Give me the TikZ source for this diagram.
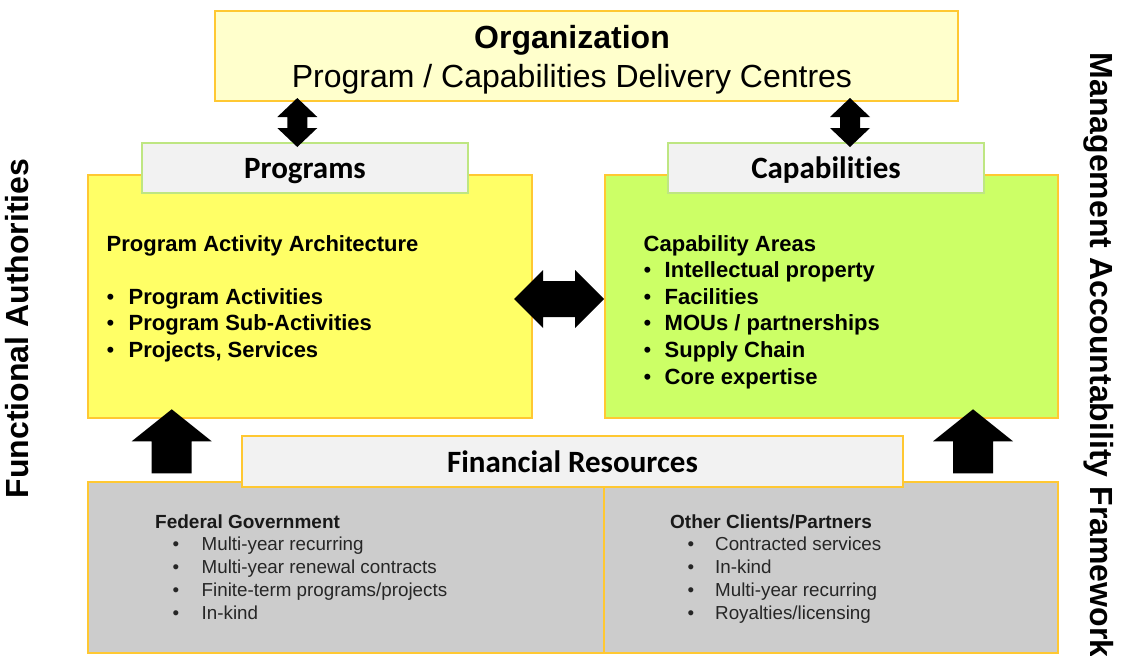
\documentclass[tikz,border=0pt]{standalone}
\usepackage{fontspec}
\setmainfont{Liberation Sans}
\newfontfamily\calfont[Ligatures=NoCommon]{Carlito}
\newcommand\itembul[1]{\makebox[#1][l]{\mdseries\textbullet}}

\definecolor{gold}{RGB}{255,200,50}
\definecolor{orgfill}{RGB}{255,255,204}
\definecolor{progfill}{RGB}{255,255,102}
\definecolor{capfill}{RGB}{204,255,102}
\definecolor{labfill}{RGB}{242,242,242}
\definecolor{labgreen}{RGB}{190,230,130}
\definecolor{resfill}{RGB}{204,204,204}

\begin{document}
\begin{tikzpicture}[x=1pt,y=-1pt,
  panel/.style={draw=gold, line width=1.5pt, inner sep=0pt, outer sep=0pt},
  tab/.style={panel, fill=labfill},
  caption/.style={anchor=base, inner sep=0pt, font=\calfont\bfseries\fontsize{31}{37}\selectfont},
  listtext/.style={anchor=base west, inner sep=0pt},
  sidelabel/.style={anchor=base, inner sep=0pt, font=\fontsize{32}{38}\selectfont\bfseries},
  % block arrows, drawn around their centre
  vdarrow/.pic={\fill (0,-24.5) -- (20,-5.5) -- (10,-5.5) -- (10,5.5) -- (20,5.5) -- (0,24.5)
       -- (-20,5.5) -- (-10,5.5) -- (-10,-5.5) -- (-20,-5.5) -- cycle;},
  hdarrow/.pic={\fill (-45,0) -- (-16,-29) -- (-16,-18) -- (16,-18) -- (16,-29) -- (45,0)
       -- (16,29) -- (16,18) -- (-16,18) -- (-16,29) -- cycle;},
  uparrow/.pic={\fill (0,-32) -- (40,0) -- (20,0) -- (20,32) -- (-20,32) -- (-20,0) -- (-40,0) -- cycle;}
]
\useasboundingbox (0,0) rectangle (1128,656);

% organization banner
\node[panel, fill=orgfill, minimum width=743pt, minimum height=90pt] (org) at (586.5,56) {};
\node[anchor=base, inner sep=0pt, font=\fontsize{32}{38}\selectfont\bfseries] (orgtitle) at (572,48.3) {Organization};
\node[anchor=base, inner sep=0pt, font=\fontsize{32}{38}\selectfont] (orgsub) at (572,87.3) {Program / Capabilities Delivery Centres};

% programs and capabilities panels
\node[panel, fill=progfill, minimum width=444pt, minimum height=243pt] (prog) at (310,296.5) {};
\node[panel, fill=capfill, minimum width=453pt, minimum height=243pt] (cap) at (831.5,296.5) {};
\node[tab, draw=labgreen, minimum width=326pt, minimum height=50pt] (progtab) at (305,168) {};
\node[tab, draw=labgreen, minimum width=316pt, minimum height=50pt] (captab) at (826,168) {};
\node[caption] (progcap) at (305,178.3) {Programs};
\node[caption] (capcap) at (826,178.5) {Capabilities};

\node[listtext, font=\fontsize{22}{26.6}\selectfont\bfseries] (paa) at (106.5,251) {%
  \begin{tabular}[t]{@{}l@{}}
  Program Activity Architecture\\
  \\
  \itembul{22pt}Program Activities\\
  \itembul{22pt}Program Sub-Activities\\
  \itembul{22pt}Projects, Services
  \end{tabular}};
\node[listtext, font=\fontsize{22}{26.6}\selectfont\bfseries] (areas) at (643.5,251) {%
  \begin{tabular}[t]{@{}l@{}}
  Capability Areas\\
  \itembul{21pt}Intellectual property\\
  \itembul{21pt}Facilities\\
  \itembul{21pt}MOUs / partnerships\\
  \itembul{21pt}Supply Chain\\
  \itembul{21pt}Core expertise
  \end{tabular}};

% financial resources
\node[panel, fill=resfill, minimum width=516pt, minimum height=171pt] (fed) at (346,567.5) {};
\node[panel, fill=resfill, minimum width=454pt, minimum height=171pt] (oth) at (831,567.5) {};
\node[tab, minimum width=661pt, minimum height=51pt] (fintab) at (572.5,461.5) {};
\node[caption] (fincap) at (572.5,472) {Financial Resources};

\node[listtext, font=\fontsize{19}{22}\selectfont\bfseries, text=black!90] (fedhead) at (155,528.5) {Federal Government};
\node[listtext, font=\fontsize{18.8}{23.3}\selectfont, text=black!85] (fedlist) at (172.5,550) {%
  \begin{tabular}[t]{@{}l@{}}
  \itembul{29pt}Multi-year recurring\\
  \itembul{29pt}Multi-year renewal contracts\\
  \itembul{29pt}Finite-term programs/projects\\
  \itembul{29pt}In-kind
  \end{tabular}};
\node[listtext, font=\fontsize{19}{22}\selectfont\bfseries, text=black!90] (othhead) at (670,528.5) {Other Clients/Partners};
\node[listtext, font=\fontsize{18.8}{23.3}\selectfont, text=black!85] (othlist) at (687.5,550) {%
  \begin{tabular}[t]{@{}l@{}}
  \itembul{27.5pt}Contracted services\\
  \itembul{27.5pt}In-kind\\
  \itembul{27.5pt}Multi-year recurring\\
  \itembul{27.5pt}Royalties/licensing
  \end{tabular}};

% block arrows between the panels
\pic (orgprog) at (297.3,122.5) {vdarrow};
\pic (orgcap) at (850,122.5) {vdarrow};
\pic (progcapx) at (559,299) {hdarrow};
\pic (fedup) at (171.7,441.3) {uparrow};
\pic (othup) at (973,441.3) {uparrow};

% side labels
\node[sidelabel, rotate=90] (functional) at (28,328.5) {Functional Authorities};
\node[sidelabel, rotate=-90] (maf) at (1090,355) {Management Accountability Framework};
\end{tikzpicture}
\end{document}
